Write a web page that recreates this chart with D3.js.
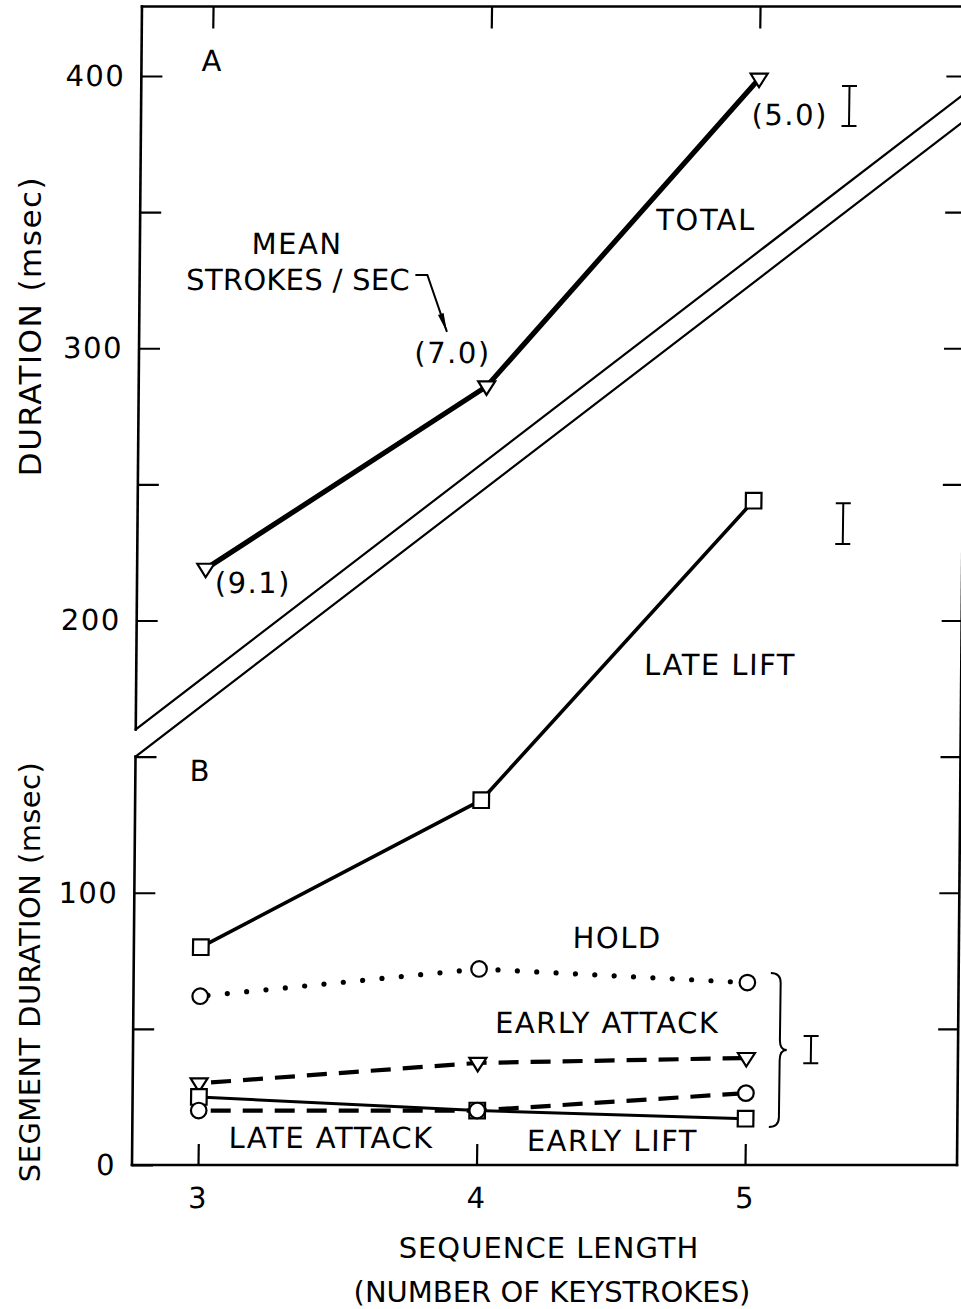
<!DOCTYPE html>
<html><head><meta charset="utf-8">
<script src="https://cdn.jsdelivr.net/npm/d3@7"></script>
<style>
body{margin:0;background:#fff}
svg{display:block}
text{font-family:"DejaVu Sans",sans-serif;fill:#000}
</style>
</head><body>
<svg id="chart" width="961" height="1309"></svg>
<script>
// ---------------- data ----------------
const seqLength    = [3, 4, 5];
const total        = [219, 286, 399];
const strokesLabel = ["(9.1)", "(7.0)", "(5.0)"];
const lateLift     = [80, 134, 244];
const hold         = [62, 72, 67];
const earlyAttack  = [30, 37.5, 39.3];
const lateAttack   = [20, 20, 26.4];
const earlyLift    = [25, 20, 17];
const yTickValues  = [0, 50, 100, 150, 200, 250, 300, 350, 400];
const yTickLabels  = [0, 100, 200, 300, 400];
const xTickLabels  = [3, 4, 5];
const errCenter    = [389, 235.6, 42.4];
const errHalf      = [7.35, 7.5, 5];

// ---------------- layout ----------------
const W = 961, H = 1309, Y0 = 1165;
const svg = d3.select("#chart");
const x = d3.scaleLinear().domain([3, 4, 5]).range([198, 476.5, 745]);
const y = d3.scaleLinear().domain([0, 400]).range([Y0, 76]);
const xMin = x.invert(132), xMax = x.invert(957);
const yTopV = y.invert(6.5);
const breakA = [160, 394], breakB = [150, 384];
const errX = [5.337, 5.334, 5.24];

function skew(k){
  const a = Math.atan(k) * 180 / Math.PI;
  return `translate(0,${Y0}) skewX(${-a}) translate(0,${-Y0})`;
}
const frame = svg.append("g").attr("transform", skew(0.0086));
const plot  = svg.append("g").attr("transform", skew(0.013));

// frame lines
const seg = (g, x1, y1, x2, y2, w) => g.append("line")
  .attr("x1", x(x1)).attr("y1", y(y1)).attr("x2", x(x2)).attr("y2", y(y2))
  .attr("stroke", "#000").attr("stroke-width", w).attr("stroke-linecap", "square");
seg(frame, xMin, yTopV, xMin, breakA[0], 2.6);
seg(frame, xMin, breakB[0], xMin, 0, 2.6);
seg(frame, xMax, yTopV, xMax, breakA[1], 2.6);
seg(frame, xMax, breakB[1], xMax, 0, 2.6);
seg(frame, xMin, yTopV, xMax, yTopV, 2.6);
seg(frame, xMin, 0, xMax, 0, 2.6);
seg(frame, xMin, breakA[0], xMax, breakA[1], 2.2);
seg(frame, xMin, breakB[0], xMax, breakB[1], 2.2);

// y axes
const yl = frame.append("g").attr("transform", `translate(${x(xMin)},0)`)
  .call(d3.axisLeft(y).tickValues(yTickValues).tickSize(-21).tickPadding(16)
    .tickFormat(d => yTickLabels.includes(d) ? d : ""));
const yr = frame.append("g").attr("transform", `translate(${x(xMax)},0)`)
  .call(d3.axisRight(y).tickValues(yTickValues.filter(d => d > 0)).tickSize(-20).tickFormat(""));
// x axes
const xb = plot.append("g").attr("transform", `translate(0,${y(0)})`)
  .call(d3.axisBottom(x).tickValues(xTickLabels).tickSize(-21).tickPadding(22).tickFormat(d3.format("d")));
const xt = plot.append("g").attr("transform", `translate(0,6.5)`)
  .call(d3.axisTop(x).tickValues(xTickLabels).tickSize(-22).tickFormat(""));
[yl, yr, xb, xt].forEach(g => {
  g.select(".domain").remove();
  g.selectAll(".tick line").attr("stroke", "#000").attr("stroke-width", 2.2);
  g.selectAll("text").attr("font-family", '"DejaVu Sans",sans-serif').attr("font-size", 29).attr("letter-spacing", 1.5);
});

// ---------------- series ----------------
const line = arr => d3.line().x((d, i) => x(seqLength[i])).y(d => y(d))(arr);
const series = [
  {v: total,       w: 5.2, dash: null,       cap: "round", m: "tri"},
  {v: lateLift,    w: 3.6, dash: null,       cap: "round", m: "sq"},
  {v: hold,        w: 5.2, dash: "0 19.4",   cap: "round", m: "ci", off: -7.8},
  {v: earlyAttack, w: 4.2, dash: "20 12",    cap: "butt",  m: "tri", off: -12},
  {v: earlyLift,   w: 3.0, dash: null,       cap: "round", m: "sq"},
  {v: lateAttack,  w: 4.2, dash: "20 12",    cap: "butt",  m: "ci", off: -12}
];
series.forEach(s => {
  plot.append("path").attr("d", line(s.v)).attr("fill", "none")
    .attr("stroke", "#000").attr("stroke-width", s.w)
    .attr("stroke-linecap", s.cap).attr("stroke-linejoin", "round")
    .attr("stroke-dasharray", s.dash).attr("stroke-dashoffset", s.off || 0);
});
const shapes = {
  tri: "M-8.5,-5L8.5,-5L0,8.5Z",
  sq:  "M-7.8,-7.8H7.8V7.8H-7.8Z",
  ci:  d3.symbol(d3.symbolCircle, 190)()
};
series.forEach(s => {
  plot.append("g").selectAll("path").data(s.v).join("path")
    .attr("transform", (d, i) => `translate(${x(seqLength[i])},${y(d)})`)
    .attr("d", shapes[s.m]).attr("fill", "#fff").attr("stroke", "#000").attr("stroke-width", 2.2);
});

// error bars
errCenter.forEach((c, i) => {
  const xx = x(errX[i]), y1 = y(c - errHalf[i]), y2 = y(c + errHalf[i]);
  const g = plot.append("g").attr("stroke", "#000").attr("stroke-width", 2);
  g.append("line").attr("x1", xx).attr("x2", xx).attr("y1", y1).attr("y2", y2);
  g.append("line").attr("x1", xx - 7.5).attr("x2", xx + 7.5).attr("y1", y1).attr("y2", y1);
  g.append("line").attr("x1", xx - 7.5).attr("x2", xx + 7.5).attr("y1", y2).attr("y2", y2);
});

// brace
{
  const b0 = x(5.087), b1 = x(5.124), b2 = x(5.15);
  const yT = y(70.5), yM = y(42.2), yB = y(14), r = 10;
  plot.append("path").attr("fill", "none").attr("stroke", "#000").attr("stroke-width", 2)
    .attr("d", `M${b0},${yT} Q${b1},${yT} ${b1},${yT + r} L${b1},${yM - r} Q${b1},${yM} ${b2},${yM}` +
               ` Q${b1},${yM} ${b1},${yM + r} L${b1},${yB - r} Q${b1},${yB} ${b0},${yB}`);
}

// arrow for MEAN STROKES/SEC
{
  const p0 = [x(3.739), y(326.9)], p1 = [x(3.782), y(326.9)], p2 = [x(3.855), y(306)];
  plot.append("path").attr("fill", "none").attr("stroke", "#000").attr("stroke-width", 2)
    .attr("d", `M${p0}L${p1}L${p2}`);
  const dx = p2[0] - p1[0], dy = p2[1] - p1[1], L = Math.hypot(dx, dy);
  const ux = dx / L, uy = dy / L, len = 19, hw = 3;
  const bx = p2[0] - ux * len, by = p2[1] - uy * len;
  plot.append("path").attr("fill", "#000")
    .attr("d", `M${p2}L${bx - uy * hw},${by + ux * hw}L${bx + uy * hw},${by - ux * hw}Z`);
}

// annotations
const notes = [
  {t: "A", x: 3.0, y: 405.5},
  {t: "B", x: 2.99, y: 145},
  {t: "MEAN", x: 3.313, y: 338.3},
  {t: "STROKES / SEC", x: 3.318, y: 325.1, ls: 0.3},
  {t: strokesLabel[0], x: 3.17, y: 213.8},
  {t: strokesLabel[1], x: 3.876, y: 298.6},
  {t: strokesLabel[2], x: 5.116, y: 386},
  {t: "TOTAL", x: 4.809, y: 347.1},
  {t: "LATE LIFT", x: 4.883, y: 183.7},
  {t: "HOLD", x: 4.513, y: 83.7},
  {t: "EARLY ATTACK", x: 4.48, y: 52.5},
  {t: "EARLY LIFT", x: 4.505, y: 8.8},
  {t: "LATE ATTACK", x: 3.477, y: 9.9}
];
plot.append("g").selectAll("text").data(notes).join("text")
  .attr("x", d => x(d.x)).attr("y", d => y(d.y)).attr("dy", "0.36em")
  .attr("text-anchor", "middle").attr("font-size", 29)
  .attr("letter-spacing", d => d.ls != null ? d.ls : 1.5)
  .text(d => d.t);

// axis titles
svg.append("text").attr("x", 549).attr("y", 1248).attr("dy", "0.36em").attr("text-anchor", "middle")
  .attr("font-size", 29).attr("letter-spacing", 1).text("SEQUENCE LENGTH");
svg.append("text").attr("x", 552).attr("y", 1292).attr("dy", "0.36em").attr("text-anchor", "middle")
  .attr("font-size", 29).attr("letter-spacing", 0).text("(NUMBER OF KEYSTROKES)");
svg.append("text").attr("transform", "translate(30,326) rotate(-90)").attr("dy", "0.36em")
  .attr("text-anchor", "middle").attr("font-size", 31).attr("letter-spacing", 1.5).text("DURATION (msec)");
svg.append("text").attr("transform", "translate(30,972) rotate(-90)").attr("dy", "0.36em")
  .attr("text-anchor", "middle").attr("font-size", 29).attr("letter-spacing", 0.4).text("SEGMENT DURATION (msec)");
</script>
</body></html>
